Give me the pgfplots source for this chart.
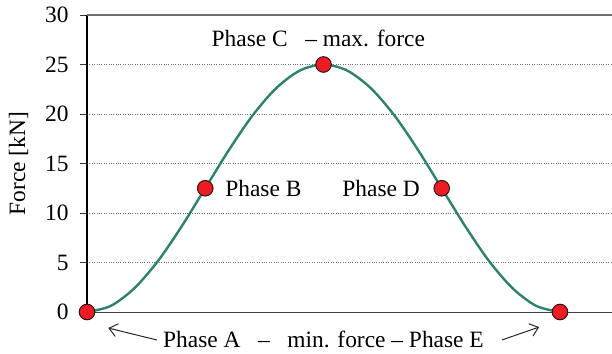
\documentclass[border=0pt]{standalone}
\usepackage{fontspec}
\setmainfont{Liberation Serif}
\usepackage{pgfplots}
\pgfplotsset{compat=1.18}
\usetikzlibrary{arrows.meta,calc}

\definecolor{curve}{RGB}{46,128,112}
\definecolor{dotred}{RGB}{237,28,36}
\definecolor{dotedge}{RGB}{50,20,20}
\definecolor{gridgray}{RGB}{110,110,110}

\newcommand{\lblfont}{\fontsize{23.5}{27}\selectfont}

\begin{document}
\begin{tikzpicture}
\begin{axis}[
    scale only axis,
    width=525bp, height=297bp,
    xmin=0, xmax=1.11, ymin=0, ymax=30,
    clip=false,
    axis x line=bottom, axis y line=left,
    axis line style={-},
    x axis line style={draw=black!75, line width=0.9bp},
    y axis line style={draw=black, line width=1.6bp},
    xtick=\empty,
    ytick={0,5,10,15,20,25,30},
    ymajorgrids=true,
    grid style={gridgray, dotted, line width=0.7bp},
    tick align=outside,
    major tick length=7bp,
    y tick style={draw=black!80, line width=0.8bp},
    tick label style={font=\lblfont},
    /pgf/number format/assume math mode=true,
    yticklabel style={xshift=-8bp},
    ylabel={Force [kN]},
    ylabel style={font=\lblfont, yshift=10bp},
  ]
\coordinate (sw) at (rel axis cs:0,0);
\coordinate (ne) at (rel axis cs:1,1);
% top border line at 30
\draw[gridgray, line width=1.4bp] (axis cs:0,30) -- (axis cs:1.11,30);
\addplot[curve, line width=2.4bp, smooth, tension=0.5] coordinates {
  (0.00,0.00) (0.05,0.61) (0.10,2.39) (0.15,5.15) (0.20,8.64)
  (0.25,12.50) (0.30,16.36) (0.35,19.85) (0.40,22.61) (0.45,24.39)
  (0.50,25.00) (0.55,24.39) (0.60,22.61) (0.65,19.85) (0.70,16.36)
  (0.75,12.50) (0.80,8.64) (0.85,5.15) (0.90,2.39) (0.95,0.61)
  (1.00,0.00)};
\addplot[only marks, mark=*, mark size=7.8bp,
         mark options={fill=dotred, draw=dotedge, line width=1bp}] coordinates {
  (0.00,0.0) (0.25,12.5) (0.50,25.0) (0.75,12.5) (1.00,0.0)};
\node[font=\lblfont] at (axis cs:0.489,27.6) {Phase C\enspace\ – max. force};
\node[font=\lblfont, anchor=west] at (axis cs:0.285,12.5) {Phase B};
\node[font=\lblfont, anchor=east] at (axis cs:0.711,12.5) {Phase D};
\node[font=\lblfont, anchor=base] at (axis cs:0.5,-3.55)
  {Phase A\enspace\ –\enspace\ min. force – Phase E};
\draw[black!85, line width=1bp, -{Straight Barb[length=8bp,width=13bp]}]
  (axis cs:0.148,-2.83) -- (axis cs:0.045,-1.62);
\draw[black!85, line width=1bp, -{Straight Barb[length=8bp,width=13bp]}]
  (axis cs:0.877,-2.83) -- (axis cs:0.956,-1.52);
\end{axis}
\pgfresetboundingbox
\path ($(sw)+(-87bp,-42bp)$) rectangle ($(ne)+(0,15bp)$);
\end{tikzpicture}
\end{document}
